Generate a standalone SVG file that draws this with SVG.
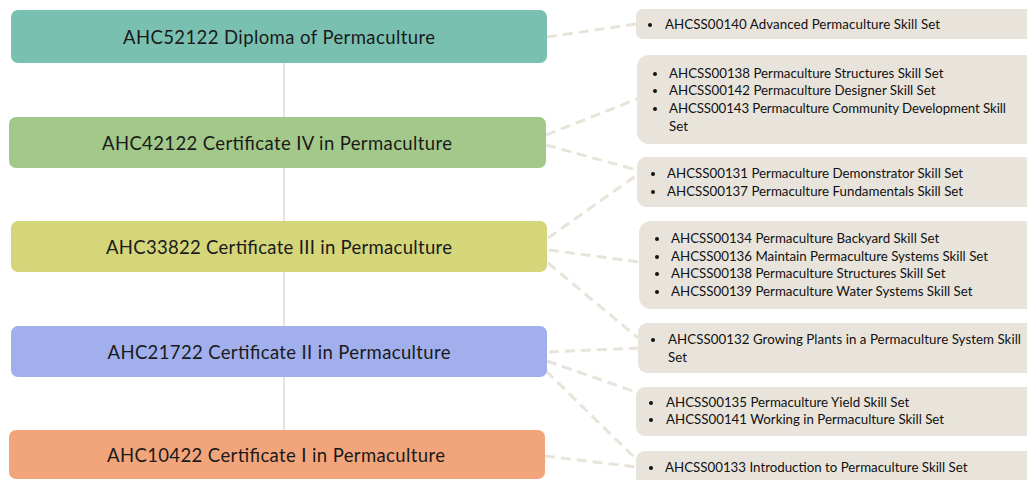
<svg xmlns="http://www.w3.org/2000/svg" width="1027" height="480" viewBox="0 0 1027 480">
<style>
.lt{font-family:"Lato","Liberation Sans",sans-serif;font-size:18.5px;fill:#1a1a1a;text-anchor:middle}
.sk{fill:#e8e4dc}
.st{font-family:"Lato","Liberation Sans",sans-serif;font-size:13.3px;fill:#111}
.bul{fill:#111}
.con{stroke:#e8e4d9;stroke-width:3;stroke-dasharray:10 6;fill:none}
.spine{stroke:#e8e4d9;stroke-width:2;fill:none}
</style>
<rect width="1027" height="480" fill="#ffffff"/>
<g id="connectors">
<line class="spine" x1="284" y1="63" x2="284" y2="430"/>
<line class="con" x1="547" y1="37" x2="636" y2="24"/>
<line class="con" x1="546" y1="135" x2="637" y2="99"/>
<line class="con" x1="546" y1="145" x2="637" y2="170"/>
<line class="con" x1="548" y1="238" x2="637" y2="175"/>
<line class="con" x1="549" y1="250" x2="639" y2="262"/>
<line class="con" x1="548" y1="263" x2="638" y2="338"/>
<line class="con" x1="549" y1="352" x2="638" y2="348"/>
<line class="con" x1="547" y1="361" x2="636" y2="392"/>
<line class="con" x1="546" y1="371" x2="636" y2="459"/>
<line class="con" x1="545" y1="456" x2="636" y2="467"/>
</g>
<g id="diploma">
<rect x="11" y="10" width="536" height="53" rx="7" fill="#7ac0b1"/>
<text class="lt" x="279" y="44" textLength="312">AHC52122 Diploma of Permaculture</text>
</g>
<g id="cert4">
<rect x="9" y="117" width="537" height="51" rx="7" fill="#a3c98a"/>
<text class="lt" x="277" y="150" textLength="350">AHC42122 Certificate IV in Permaculture</text>
</g>
<g id="cert3">
<rect x="11" y="221" width="536" height="51" rx="7" fill="#d5d57a"/>
<text class="lt" x="279" y="254" textLength="346">AHC33822 Certificate III in Permaculture</text>
</g>
<g id="cert2">
<rect x="11" y="326" width="536" height="51" rx="7" fill="#a1afec"/>
<text class="lt" x="279" y="359" textLength="343">AHC21722 Certificate II in Permaculture</text>
</g>
<g id="cert1">
<rect x="9" y="430" width="536" height="49" rx="7" fill="#f2a57b"/>
<text class="lt" x="276" y="462" textLength="338">AHC10422 Certificate I in Permaculture</text>
</g>
<g id="skills-diploma">
<rect class="sk" x="636" y="9" width="400" height="30" rx="7"/>
<circle class="bul" cx="650" cy="25" r="2"/>
<text class="st" x="665" y="29" textLength="275">AHCSS00140 Advanced Permaculture Skill Set</text>
</g>
<g id="skills-cert4">
<rect class="sk" x="637" y="55" width="400" height="89" rx="12"/>
<circle class="bul" cx="655" cy="74" r="2"/>
<circle class="bul" cx="655" cy="91" r="2"/>
<circle class="bul" cx="655" cy="109" r="2"/>
<text class="st" x="669" y="78">AHCSS00138 Permaculture Structures Skill Set</text>
<text class="st" x="669" y="95">AHCSS00142 Permaculture Designer Skill Set</text>
<text class="st" x="669" y="113" textLength="337">AHCSS00143 Permaculture Community Development Skill</text>
<text class="st" x="669" y="131">Set</text>
</g>
<g id="skills-cert4-3">
<rect class="sk" x="637" y="157" width="400" height="50" rx="9"/>
<circle class="bul" cx="653" cy="174" r="2"/>
<circle class="bul" cx="653" cy="192" r="2"/>
<text class="st" x="667" y="178">AHCSS00131 Permaculture Demonstrator Skill Set</text>
<text class="st" x="667" y="196">AHCSS00137 Permaculture Fundamentals Skill Set</text>
</g>
<g id="skills-cert3">
<rect class="sk" x="639" y="221" width="400" height="88" rx="12"/>
<circle class="bul" cx="657" cy="239" r="2"/>
<circle class="bul" cx="657" cy="257" r="2"/>
<circle class="bul" cx="657" cy="274" r="2"/>
<circle class="bul" cx="657" cy="292" r="2"/>
<text class="st" x="671" y="243">AHCSS00134 Permaculture Backyard Skill Set</text>
<text class="st" x="671" y="261">AHCSS00136 Maintain Permaculture Systems Skill Set</text>
<text class="st" x="671" y="278">AHCSS00138 Permaculture Structures Skill Set</text>
<text class="st" x="671" y="296">AHCSS00139 Permaculture Water Systems Skill Set</text>
</g>
<g id="skills-cert3-2">
<rect class="sk" x="638" y="323" width="400" height="50" rx="9"/>
<circle class="bul" cx="653" cy="340" r="2"/>
<text class="st" x="668" y="344" textLength="353">AHCSS00132 Growing Plants in a Permaculture System Skill</text>
<text class="st" x="668" y="362">Set</text>
</g>
<g id="skills-cert2">
<rect class="sk" x="636" y="387" width="400" height="49" rx="9"/>
<circle class="bul" cx="651" cy="403" r="2"/>
<circle class="bul" cx="651" cy="420" r="2"/>
<text class="st" x="666" y="407">AHCSS00135 Permaculture Yield Skill Set</text>
<text class="st" x="666" y="424">AHCSS00141 Working in Permaculture Skill Set</text>
</g>
<g id="skills-cert2-1">
<rect class="sk" x="636" y="451" width="400" height="40" rx="9"/>
<circle class="bul" cx="651" cy="468" r="2"/>
<text class="st" x="665" y="472">AHCSS00133 Introduction to Permaculture Skill Set</text>
</g>
</svg>
